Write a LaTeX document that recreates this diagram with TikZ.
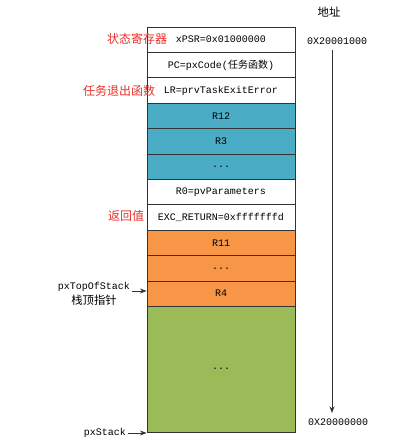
\documentclass[tikz,border=0pt]{standalone}
\usepackage{fontspec}
\setmainfont{Liberation Serif}
\setmonofont{Liberation Mono}
\newfontfamily\cjk{Noto Sans CJK SC}
\usepackage{xcolor}
\usepackage{tikz}
\usetikzlibrary{arrows.meta, positioning}

\definecolor{regblue}{HTML}{4BACC6}
\definecolor{regorange}{HTML}{F79646}
\definecolor{freegreen}{HTML}{9BBB59}
\definecolor{labelred}{HTML}{E8302A}

\begin{document}
\begin{tikzpicture}[
    x=0.75pt, y=-0.75pt,
    slot/.style={
        rectangle, draw=black!80, line width=0.6pt,
        minimum width=111pt, minimum height=19.05pt,
        inner sep=0pt, text centered,
        font=\ttfamily\fontsize{7.5}{9}\selectfont
    },
    note/.style={font=\cjk\fontsize{9}{11}\selectfont, text=labelred},
    addr/.style={font=\ttfamily\fontsize{7.5}{9}\selectfont, inner sep=1pt},
    arrow/.style={-{Stealth[length=5pt]}, line width=0.6pt, black!80},
]
\useasboundingbox (0,0) rectangle (417,445);

% Pila del task
\node[slot] (psr)  at (221,39.7)  {xPSR=0x01000000};
\node[slot] (pc)   at (221,65.1)  {PC=pxCode({\cjk 任务函数})};
\node[slot] (lr)   at (221,90.5)  {LR=prvTaskExitError};
\node[slot, fill=regblue] (r12) at (221,115.9) {R12};
\node[slot, fill=regblue] (r3)  at (221,141.3) {R3};
\node[slot, fill=regblue] (rx)  at (221,166.7) {...};
\node[slot] (r0)   at (221,192.1) {R0=pvParameters};
\node[slot] (exc)  at (221,217.5) {EXC\_RETURN=0xfffffffd};
\node[slot, fill=regorange] (r11) at (221,242.9) {R11};
\node[slot, fill=regorange] (ry)  at (221,268.3) {...};
\node[slot, fill=regorange] (r4)  at (221,293.7) {R4};
\node[slot, fill=freegreen, minimum height=94.2pt] (free) at (221,369.2) {...};

% Etichette rosse
\node[note] (lpsr) at (137,39)  {状态寄存器};
\node[note] (llr)  at (119,91)  {任务退出函数};
\node[note] (lexc) at (126,216) {返回值};

% Puntatori
\node[addr] (top)   at (94,287) {pxTopOfStack};
\node[addr, font=\cjk\fontsize{8.5}{10}\selectfont, below=0pt of top] (topcn) {栈顶指针};
\draw[arrow] ([yshift=-3pt]top.east) -- ([yshift=-3pt]top.east -| r4.west);

\node[addr] (stk) at (105,433) {pxStack};
\draw[arrow] (stk.east) -- (stk.east -| free.west);

% Asse indirizzi
\node[font=\cjk\fontsize{8.5}{10}\selectfont] (title) at (329,12) {地址};
\node[addr] (hi) at (337,41)  {0X20001000};
\node[addr] (lo) at (338,422) {0X20000000};
\coordinate (atop) at (332,50);
\coordinate (abot) at (332,413);
\draw[arrow] (atop) -- (abot);

\end{tikzpicture}
\end{document}
